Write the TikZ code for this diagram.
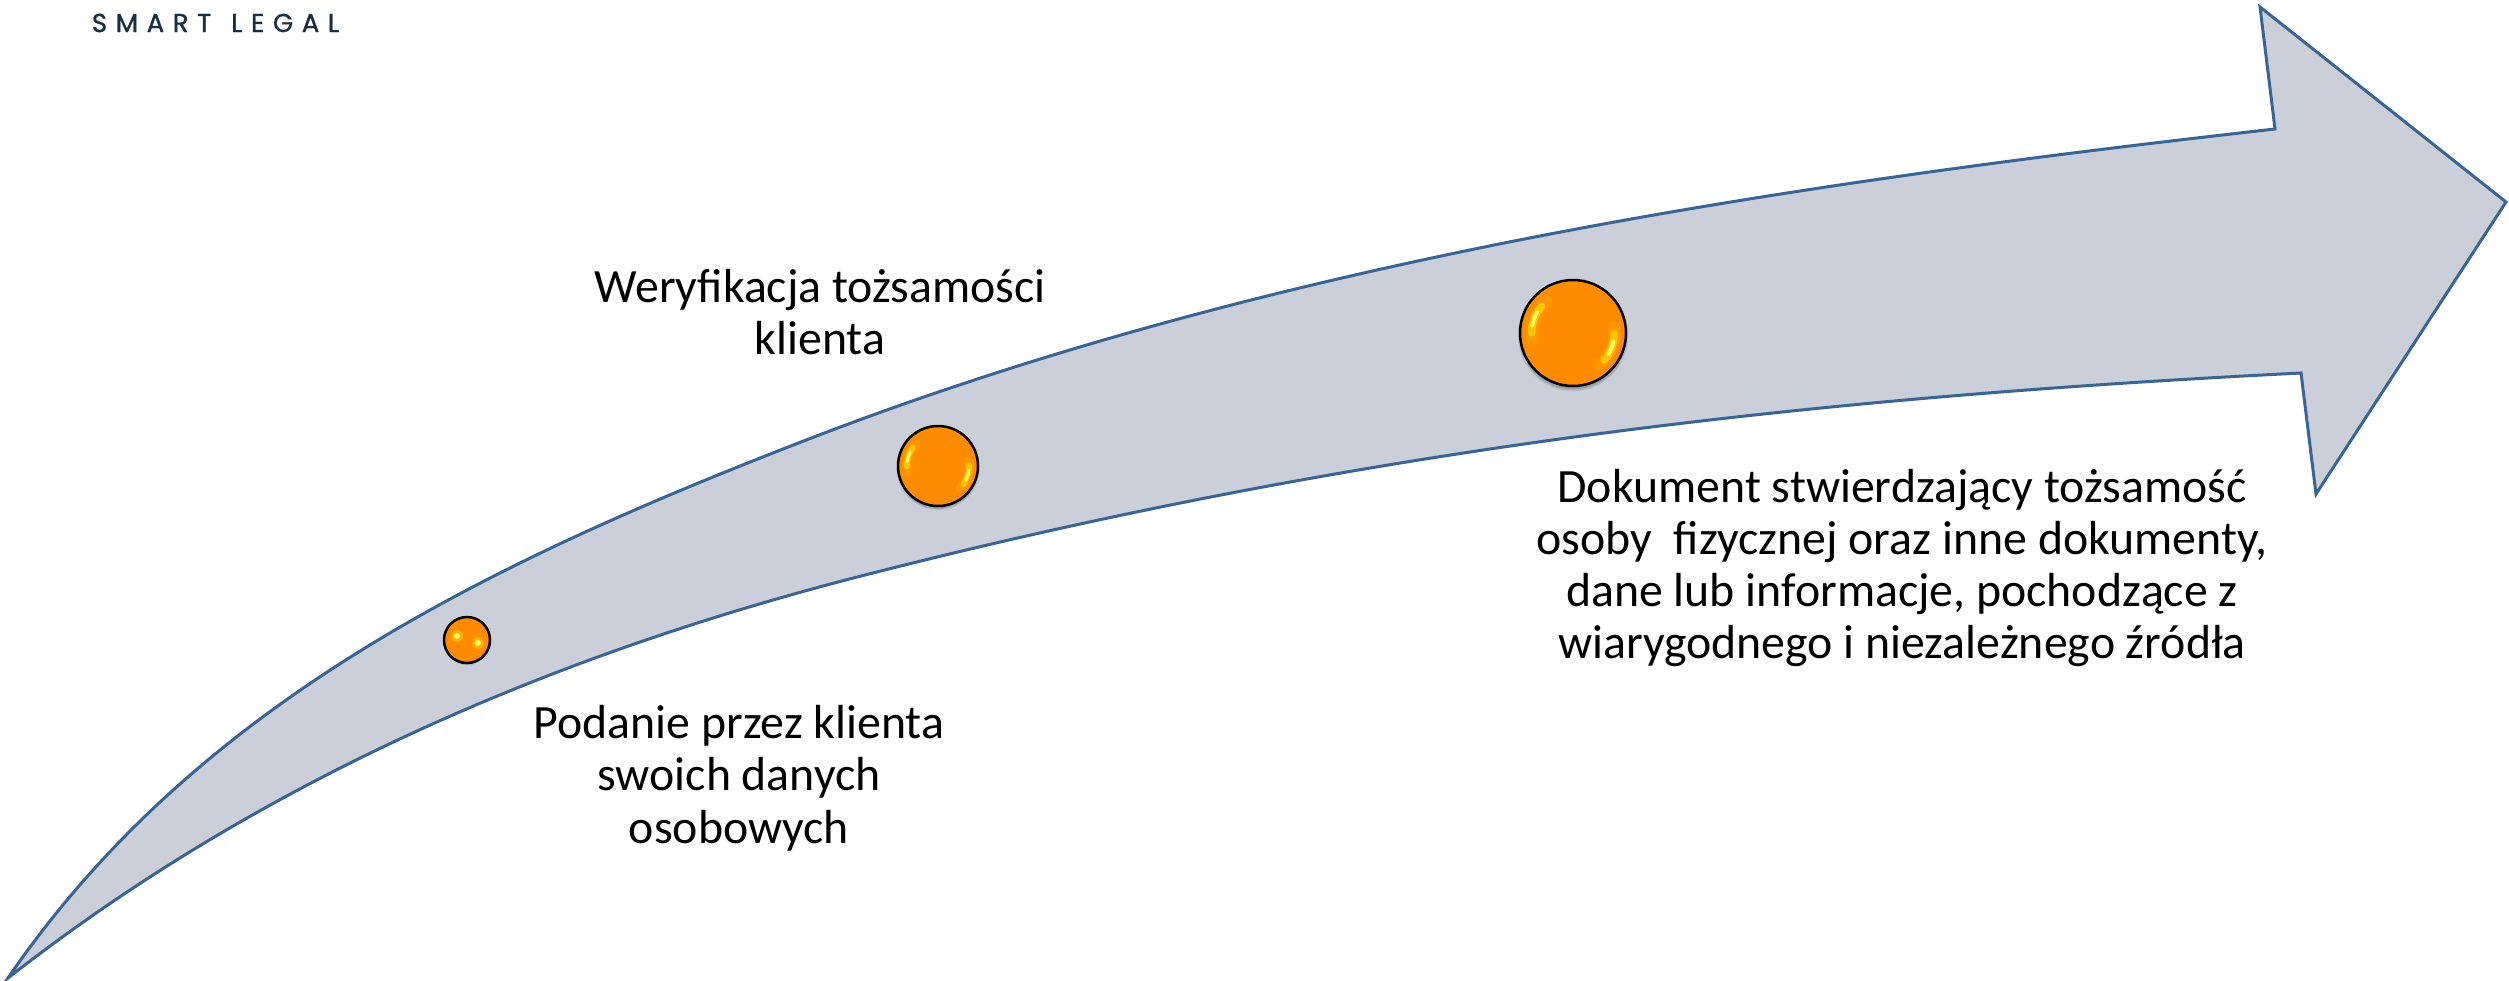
\documentclass[tikz,border=0pt]{standalone}
\usepackage{fontspec}
\setmainfont{Carlito}
\newfontfamily\logofont[FakeBold=1.2,LetterSpace=33]{Poppins}
\definecolor{arrowfill}{HTML}{CBCFDA}
\definecolor{arrowline}{HTML}{3A6491}
\definecolor{orbfill}{HTML}{FF8C00}
\definecolor{logocol}{HTML}{1B2E42}
\tikzset{
  x=1bp,y=-1bp,
  body/.style={font=\fontsize{47.8bp}{52.3bp}\selectfont,align=center,text=black,inner sep=0pt},
  orb/.style={circle,draw=black,fill=orbfill,line width=2.5bp,inner sep=0pt},
}
\newcommand{\orbshadow}[3]{%
  \foreach \k in {1,...,6}{\fill[black,opacity=.05] (#1,#2+#3*.06) circle[radius=#3*(.97+.012*\k)];}}
\newcommand{\shine}[5]{%
  \draw[line cap=round,line width=#3*.22bp,color=orange!70!yellow,opacity=.45] (#1,#2) ++(#4:#3*.78 and -#3*.78) arc[start angle=#4,end angle=#5,x radius=#3*.78,y radius=-#3*.78];
  \pgfmathsetmacro{\am}{(#4+#5)/2}\pgfmathsetmacro{\as}{\am-(#5-#4)*.34}\pgfmathsetmacro{\ae}{\am+(#5-#4)*.34}
  \draw[line cap=round,line width=#3*.14bp,color=yellow!75!orange,opacity=.75] (#1,#2) ++(\as:#3*.78 and -#3*.78) arc[start angle=\as,end angle=\ae,x radius=#3*.78,y radius=-#3*.78];
  \pgfmathsetmacro{\as}{\am-(#5-#4)*.17}\pgfmathsetmacro{\ae}{\am+(#5-#4)*.17}
  \draw[line cap=round,line width=#3*.07bp,color=yellow!60!white] (#1,#2) ++(\as:#3*.78 and -#3*.78) arc[start angle=\as,end angle=\ae,x radius=#3*.78,y radius=-#3*.78];
}
\begin{document}
\begin{tikzpicture}
\useasboundingbox (0,0) rectangle (2509,980);
\fill[white] (0,0) rectangle (2509,980);
\draw[fill=arrowfill,draw=arrowline,line width=3bp,line join=miter]
  (8,978) .. controls (195,705) and (484,565) .. (801,442)
  .. controls (1267,261) and (1778,185) .. (2275,129)
  -- (2260,7) -- (2506,202) -- (2316,494) -- (2301,373)
  .. controls (1821,397) and (1369,446) .. (865,575)
  .. controls (555,654) and (261,780) .. (8,978)
  -- cycle;
\orbshadow{467}{640}{23}
\node[orb,minimum size=46bp] (orbA) at (467,640) {};
\fill[yellow!70!orange,opacity=.5] (457,636) circle[radius=6];
\fill[yellow!60!white] (457,636) circle[radius=3];
\fill[yellow!70!orange,opacity=.5] (478,643) circle[radius=6];
\fill[yellow!60!white] (478,643) circle[radius=3];
\orbshadow{938}{466}{40}
\node[orb,minimum size=80bp] (orbB) at (938,466) {};
\shine{938}{466}{40}{135}{190}
\shine{938}{466}{40}{-45}{10}
\orbshadow{1573}{333}{53}
\node[orb,minimum size=106bp] (orbC) at (1573,333) {};
\shine{1573}{333}{53}{130}{190}
\shine{1573}{333}{53}{-50}{8}
\node[body] (t1) at (739,778) {Podanie przez klienta\\swoich danych\\osobowych};
\node[body] (t2) at (820,312) {Weryfikacja tożsamości\\klienta};
\node[body] (t3) at (1902,568) {Dokument stwierdzający tożsamość\\osoby\ \ fizycznej oraz inne dokumenty,\\dane lub informacje, pochodzące z\\wiarygodnego i niezależnego źródła};
\node[inner sep=0pt,text=logocol,font=\logofont\fontsize{26bp}{26bp}\selectfont] (logo) at (215.5,23) {SMART\hspace{20bp}LEGAL};
\end{tikzpicture}
\end{document}
